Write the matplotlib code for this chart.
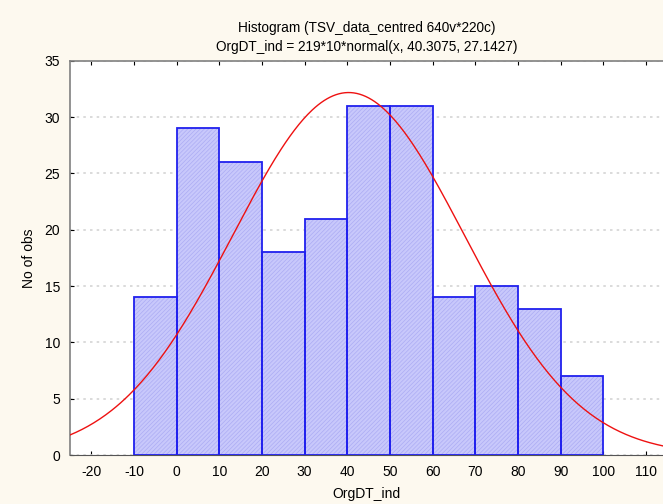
import numpy as np
import matplotlib
matplotlib.use('Agg')
import matplotlib.pyplot as plt

plt.rcParams['font.family'] = ['Liberation Sans', 'DejaVu Sans']
plt.rcParams['hatch.linewidth'] = 0.5
plt.rcParams['axes.unicode_minus'] = False

# histogram data
bin_edges = [-10, 0, 10, 20, 30, 40, 50, 60, 70, 80, 90, 100]
counts = [14, 29, 26, 18, 21, 31, 31, 14, 15, 13, 7]
xticks = [-20, -10, 0, 10, 20, 30, 40, 50, 60, 70, 80, 90, 100, 110]
yticks = [0, 5, 10, 15, 20, 25, 30, 35]
n_obs, bin_w, mu, sigma = 219, 10, 40.3075, 27.1427

fig = plt.figure(figsize=(6.63, 5.04), dpi=100, facecolor='#fdf9ef')
ax = fig.add_axes([0.1056, 0.0972, 0.8944, 0.782])

lefts = bin_edges[:-1]
# hatched fill
ax.bar(lefts, counts, width=bin_w, align='edge', color='#c8c8fb',
       edgecolor='#acacf4', hatch='////////', linewidth=0, zorder=2)
# outlines
ax.bar(lefts, counts, width=bin_w, align='edge', fill=False,
       edgecolor='#2020ee', linewidth=1.3, zorder=3)

# fitted normal curve
x = np.linspace(-25, 114, 400)
y = n_obs * bin_w * np.exp(-0.5 * ((x - mu) / sigma) ** 2) / (sigma * np.sqrt(2 * np.pi))
ax.plot(x, y, color='#ee1111', linewidth=1.0, zorder=4)

ax.set_xlim(-25, 114)
ax.set_ylim(0, 35)
ax.set_xticks(xticks)
ax.set_yticks(yticks)
ax.yaxis.grid(True, linestyle=(0, (1.5, 2.5)), color='#d4d4d4', linewidth=1.2, zorder=0)
ax.set_axisbelow(True)

ax.tick_params(direction='in', length=3, labelsize=10, top=True, right=False, pad=7)
for s in ['left', 'top']:
    ax.spines[s].set_color('#808080')
    ax.spines[s].set_linewidth(1.2)
ax.spines['bottom'].set_color('#555555')
ax.spines['right'].set_visible(False)

ax.set_xlabel('OrgDT_ind', fontsize=10, labelpad=6)
ax.set_ylabel('No of obs', fontsize=10, labelpad=6)
ax.set_title('Histogram (TSV_data_centred 640v*220c)\nOrgDT_ind = 219*10*normal(x, 40.3075, 27.1427)',
             fontsize=9.8, linespacing=1.5, pad=7)

fig.savefig('out.png', dpi=100, facecolor=fig.get_facecolor())
